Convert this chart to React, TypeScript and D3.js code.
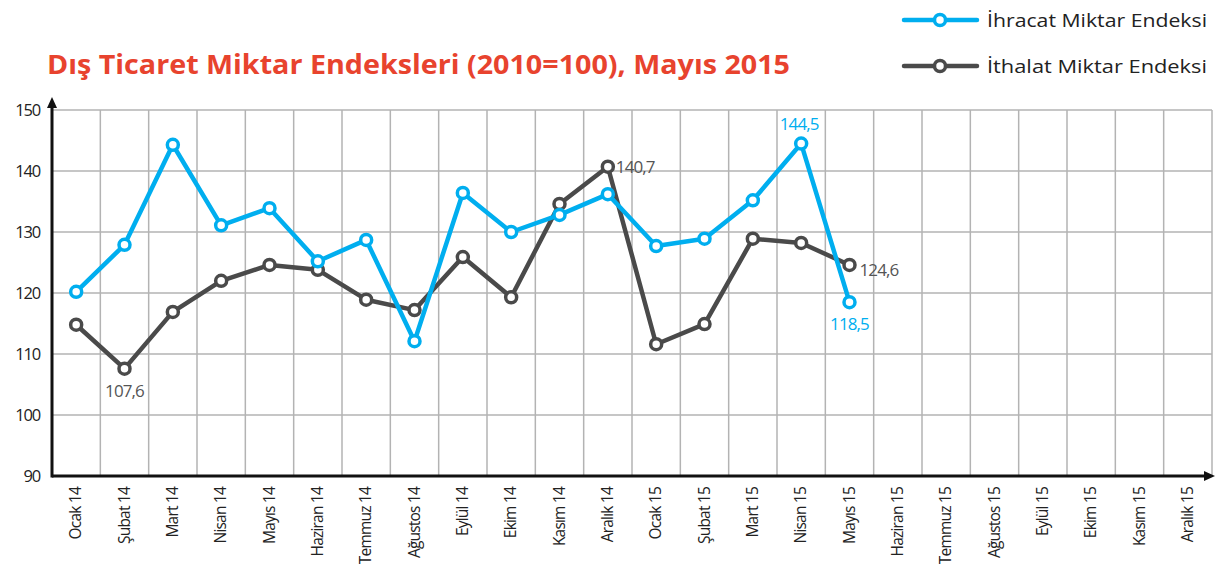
import React, { useRef, useEffect } from "react";
import * as d3 from "d3";

const months = [
  "Ocak 14", "Şubat 14", "Mart 14", "Nisan 14", "Mayıs 14", "Haziran 14",
  "Temmuz 14", "Ağustos 14", "Eylül 14", "Ekim 14", "Kasım 14", "Aralık 14",
  "Ocak 15", "Şubat 15", "Mart 15", "Nisan 15", "Mayıs 15", "Haziran 15",
  "Temmuz 15", "Ağustos 15", "Eylül 15", "Ekim 15", "Kasım 15", "Aralık 15",
];

const ihracat = [120.2, 127.9, 144.3, 131.1, 133.9, 125.2, 128.7, 112.1, 136.4, 130.0, 132.8, 136.2, 127.7, 128.9, 135.2, 144.5, 118.5];
const ithalat = [114.8, 107.6, 116.9, 122.0, 124.6, 123.8, 118.9, 117.2, 125.9, 119.3, 134.6, 140.7, 111.6, 114.9, 128.9, 128.2, 124.6];
const yTicks = [90, 100, 110, 120, 130, 140, 150];

const BLUE = "#00aeef";
const DARK = "#4a4a4a";
const FONT = "'Open Sans', sans-serif";

const App = () => {
  const svgRef = useRef(null);
  const W = 1215, H = 564;
  const left = 52, right = 1212, top = 110, bottom = 476;

  useEffect(() => {
    const svg = d3.select(svgRef.current);
    svg.selectAll("*").remove();

    const x = d3.scaleBand().domain(months).range([left, right]);
    const y = d3.scaleLinear().domain([90, 150]).range([bottom, top]);

    // grid
    const grid = svg.append("g");
    grid.selectAll("line.h")
      .data(yTicks.slice(1))
      .enter().append("line")
      .attr("x1", left).attr("x2", right)
      .attr("y1", d => y(d)).attr("y2", d => y(d))
      .attr("stroke", "#b3b3b3").attr("stroke-width", 1.5);
    grid.selectAll("line.v")
      .data(months)
      .enter().append("line")
      .attr("x1", d => x(d) + x.bandwidth()).attr("x2", d => x(d) + x.bandwidth())
      .attr("y1", top).attr("y2", bottom)
      .attr("stroke", "#b3b3b3").attr("stroke-width", 1.5);

    // axes
    svg.append("line")
      .attr("x1", left).attr("x2", left).attr("y1", bottom + 1.5).attr("y2", top - 6)
      .attr("stroke", "#111").attr("stroke-width", 3);
    svg.append("path")
      .attr("d", `M${left - 5},${top - 2} L${left},${top - 13} L${left + 5},${top - 2} Z`)
      .attr("fill", "#111");
    svg.append("line")
      .attr("x1", left).attr("x2", right - 4).attr("y1", bottom).attr("y2", bottom)
      .attr("stroke", "#111").attr("stroke-width", 3);
    svg.append("path")
      .attr("d", `M${right - 8},${bottom - 5} L${right + 3},${bottom} L${right - 8},${bottom + 5} Z`)
      .attr("fill", "#111");

    // y tick labels
    svg.append("g").selectAll("text")
      .data(yTicks)
      .enter().append("text")
      .attr("x", 40).attr("y", d => y(d) + 6)
      .attr("text-anchor", "end")
      .attr("font-family", FONT).attr("font-size", 16.5).attr("fill", "#222")
      .attr("letter-spacing", -1.2)
      .text(d => d);

    // x tick labels
    svg.append("g").selectAll("text")
      .data(months)
      .enter().append("text")
      .attr("transform", d => `translate(${x(d) + x.bandwidth() / 2 + 5},${bottom + 11}) rotate(-90)`)
      .attr("text-anchor", "end")
      .attr("font-family", FONT).attr("font-size", 15.5).attr("fill", "#222")
      .attr("letter-spacing", -0.8)
      .text(d => d);

    const line = d3.line()
      .x((d, i) => x(months[i]) + x.bandwidth() / 2)
      .y(d => y(d));

    const drawSeries = (data, color) => {
      svg.append("path")
        .datum(data)
        .attr("d", line)
        .attr("fill", "none")
        .attr("stroke", color)
        .attr("stroke-width", 4.5)
        .attr("stroke-linejoin", "round");
      svg.append("g").selectAll("circle")
        .data(data)
        .enter().append("circle")
        .attr("cx", (d, i) => x(months[i]) + x.bandwidth() / 2)
        .attr("cy", d => y(d))
        .attr("r", 5.5)
        .attr("fill", "#fff")
        .attr("stroke", color)
        .attr("stroke-width", 3.5);
    };
    drawSeries(ithalat, DARK);
    drawSeries(ihracat, BLUE);

    const cx = i => x(months[i]) + x.bandwidth() / 2;
    const labels = [
      { i: 1, v: ithalat[1], dx: 0, dy: 28, anchor: "middle", color: "#555" },
      { i: 11, v: ithalat[11], dx: 8, dy: 6, anchor: "start", color: "#555" },
      { i: 16, v: ithalat[16], dx: 10, dy: 11, anchor: "start", color: "#555" },
      { i: 15, v: ihracat[15], dx: -2, dy: -14, anchor: "middle", color: BLUE },
      { i: 16, v: ihracat[16], dx: 0, dy: 28, anchor: "middle", color: BLUE },
    ];
    svg.append("g").selectAll("text")
      .data(labels)
      .enter().append("text")
      .attr("x", d => cx(d.i) + d.dx)
      .attr("y", d => y(d.v) + d.dy)
      .attr("text-anchor", d => d.anchor)
      .attr("font-family", FONT).attr("font-size", 17)
      .attr("letter-spacing", -0.9)
      .attr("fill", d => d.color)
      .text(d => d3.format(".1f")(d.v).replace(".", ","));

    // title
    svg.append("text")
      .attr("x", 47).attr("y", 74)
      .attr("font-family", FONT).attr("font-weight", 700).attr("font-size", 26)
      .attr("fill", "#e8432e")
      .attr("textLength", 743)
      .attr("lengthAdjust", "spacingAndGlyphs")
      .text("Dış Ticaret Miktar Endeksleri (2010=100), Mayıs 2015");

    // legend
    const legend = [
      { name: "İhracat Miktar Endeksi", color: BLUE, y: 20 },
      { name: "İthalat Miktar Endeksi", color: DARK, y: 66 },
    ];
    const lg = svg.append("g").selectAll("g").data(legend).enter().append("g");
    lg.append("line")
      .attr("x1", 904).attr("x2", 977).attr("y1", d => d.y).attr("y2", d => d.y)
      .attr("stroke", d => d.color).attr("stroke-width", 4.5).attr("stroke-linecap", "round");
    lg.append("circle")
      .attr("cx", 940).attr("cy", d => d.y).attr("r", 5.5)
      .attr("fill", "#fff").attr("stroke", d => d.color).attr("stroke-width", 3.5);
    lg.append("text")
      .attr("x", 987).attr("y", d => d.y + 7)
      .attr("font-family", FONT).attr("font-size", 19).attr("fill", "#222")
      .attr("textLength", 220).attr("lengthAdjust", "spacingAndGlyphs")
      .text(d => d.name);
  }, []);

  return (
    <svg ref={svgRef} width={W} height={H} style={{ position: "absolute", left: 0, top: 0, background: "#fff" }}></svg>
  );
};

export default App;
